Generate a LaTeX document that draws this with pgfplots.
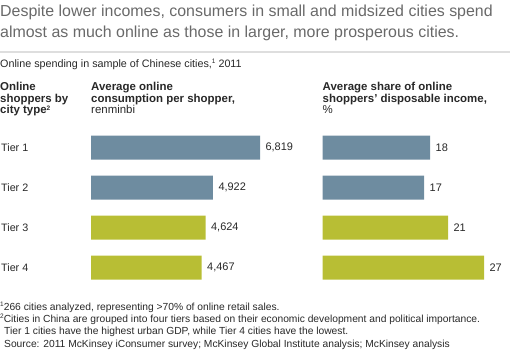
\documentclass[border=0pt]{standalone}
\usepackage{pgfplots}
\pgfplotsset{compat=1.18}
\usepackage{fontspec}
\setmainfont{Liberation Sans}
\definecolor{bluebar}{RGB}{110,140,160}
\definecolor{olivebar}{RGB}{184,190,52}
\definecolor{titlegray}{RGB}{105,105,105}
\definecolor{txt}{RGB}{40,40,40}
\definecolor{rulegray}{RGB}{222,222,222}
\newcommand{\sups}[1]{\raisebox{0.3em}{\fontsize{6.5}{6.5}\selectfont #1}}
\begin{document}
\begin{tikzpicture}[x=1bp,y=1bp]
\path[use as bounding box] (0,0) rectangle (510,363);
% title
\node[anchor=base west, inner sep=0pt, text=titlegray, font=\fontsize{16}{20}\selectfont] at (0,363-16) {Despite lower incomes, consumers in small and midsized cities spend};
\node[anchor=base west, inner sep=0pt, text=titlegray, font=\fontsize{16}{20}\selectfont] at (0,363-37) {almost as much online as those in larger, more prosperous cities.};
\draw[rulegray, line width=2bp] (0,363-52) -- (510,363-52);
\node[anchor=base west, inner sep=0pt, text=txt, font=\fontsize{10.8}{12}\selectfont] at (0,363-67) {Online spending in sample of Chinese cities,\sups{1} 2011};
% headers
\begin{scope}[every node/.style={anchor=base west, inner sep=0pt, text=txt, font=\fontsize{11.5}{13}\selectfont}]
\node at (0,363-90.5) {\bfseries Online};
\node at (0,363-102) {\bfseries shoppers by};
\node at (0,363-113.5) {\bfseries city type\sups{2}};
\node at (91,363-90.5) {\bfseries Average online};
\node at (91,363-102) {\bfseries consumption per shopper,};
\node at (91,363-113.5) {renminbi};
\node at (322.5,363-90.5) {\bfseries Average share of online};
\node at (322.5,363-102) {\bfseries shoppers’ disposable income,};
\node at (322.5,363-113.5) {\%};
\end{scope}
% tier labels
\begin{scope}[every node/.style={anchor=west, inner sep=0pt, text=txt, font=\fontsize{10.8}{12}\selectfont}]
\node at (1,363-147.5) {Tier 1};
\node at (1,363-187.5) {Tier 2};
\node at (1,363-227.5) {Tier 3};
\node at (1,363-267.5) {Tier 4};
\end{scope}
% left axis
\begin{axis}[at={(91bp,75.5bp)}, anchor=south west, scale only axis,
  width=169bp, height=160bp, xmin=0, xmax=6819, ymin=0.5, ymax=4.5,
  y dir=reverse, axis lines=none, clip=false,
  xbar, bar width=24bp,
  nodes near coords, nodes near coords align={horizontal},
  every node near coord/.append style={text=txt, font=\fontsize{11}{12}\selectfont, xshift=2bp},
  /pgf/number format/.cd, 1000 sep={,}, assume math mode=true]
\addplot[draw=none, fill=bluebar, bar shift=0pt] coordinates {(6819,1) (4922,2)};
\addplot[draw=none, fill=olivebar, bar shift=0pt] coordinates {(4624,3) (4467,4)};
\end{axis}
% right axis
\begin{axis}[at={(322.5bp,75.5bp)}, anchor=south west, scale only axis,
  width=161.5bp, height=160bp, xmin=0, xmax=27, ymin=0.5, ymax=4.5,
  y dir=reverse, axis lines=none, clip=false,
  xbar, bar width=24bp,
  nodes near coords, nodes near coords align={horizontal},
  every node near coord/.append style={text=txt, font=\fontsize{11}{12}\selectfont, xshift=2bp},
  /pgf/number format/.cd, assume math mode=true]
\addplot[draw=none, fill=bluebar, bar shift=0pt] coordinates {(18,1) (17,2)};
\addplot[draw=none, fill=olivebar, bar shift=0pt] coordinates {(21,3) (27,4)};
\end{axis}
% footnotes
\begin{scope}[every node/.style={anchor=base west, inner sep=0pt, text=txt, font=\fontsize{10.3}{12}\selectfont}]
\node at (0,363-310) {\sups{1}266 cities analyzed, representing >70\% of online retail sales.};
\node at (0,363-322) {\sups{2}Cities in China are grouped into four tiers based on their economic development and political importance.};
\node at (4,363-334) {Tier 1 cities have the highest urban GDP, while Tier 4 cities have the lowest.};
\node at (4,363-347) {Source: 2011 McKinsey iConsumer survey; McKinsey Global Institute analysis; McKinsey analysis};
\end{scope}
\end{tikzpicture}
\end{document}
